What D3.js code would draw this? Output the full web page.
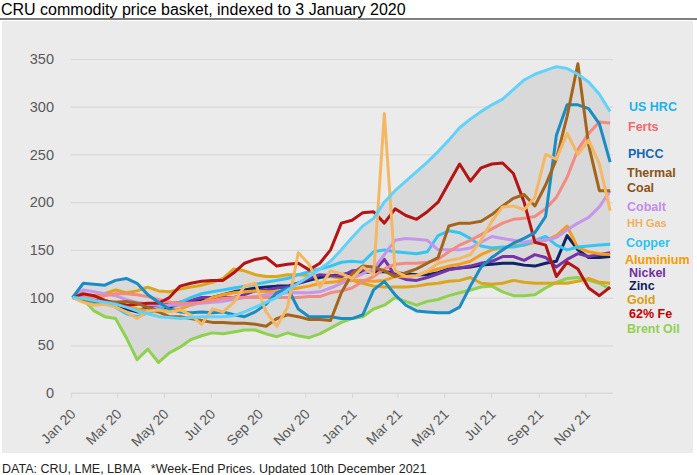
<!DOCTYPE html>
<html>
<head>
<meta charset="utf-8">
<script src="https://cdn.jsdelivr.net/npm/d3@7"></script>
<style>
  body { margin: 0; background: #fff; }
  svg { font-family: "Liberation Sans", Arial, sans-serif; }
</style>
</head>
<body>
<script>
// week-end dates, sampled every second week
const weekEnds = [
  "2020-01-03","2020-01-17","2020-01-31","2020-02-14","2020-02-28","2020-03-13","2020-03-27","2020-04-10","2020-04-24","2020-05-08",
  "2020-05-22","2020-06-05","2020-06-19","2020-07-03","2020-07-17","2020-07-31","2020-08-14","2020-08-28","2020-09-11","2020-09-25",
  "2020-10-09","2020-10-23","2020-11-06","2020-11-20","2020-12-04","2020-12-18","2021-01-01","2021-01-15","2021-01-29","2021-02-12",
  "2021-02-26","2021-03-12","2021-03-26","2021-04-09","2021-04-23","2021-05-07","2021-05-21","2021-06-04","2021-06-18","2021-07-02",
  "2021-07-16","2021-07-30","2021-08-13","2021-08-27","2021-09-10","2021-09-24","2021-10-08","2021-10-22","2021-11-05","2021-11-19","2021-12-03"
];

const usHrc = [100,99,97,95,93,90,86,83,80,79, 78,79,80,80,80,81,85,90,95,100, 108,115,122,130,138,150,163,175,183,200, 212,222,232,242,253,265,278,287,295,302, 308,318,328,334,338,342,340,334,326,313,295];
const ferts = [100,100,100,102,104,104,103,101,98,95, 94,94,95,97,99,100,100,100,100,100, 100,100,101,101,105,107,110,117,122,130, 135,136,136,137,140,148,155,160,166,172, 178,182,183,185,193,205,226,255,272,284,283];
const phcc = [100,115,114,113,118,120,115,103,95,88, 85,84,85,84,85,82,80,85,93,105, 110,88,80,80,80,78,78,82,108,117, 103,92,86,85,84,84,90,112,132,142, 150,157,162,168,185,270,302,302,298,282,242];
const thermalCoal = [100,98,96,95,95,96,94,90,85,80, 80,78,76,74,74,73,73,72,70,78, 82,80,77,77,76,105,125,133,132,128, 122,126,130,136,142,175,178,178,180,187, 196,204,208,196,218,245,290,345,260,212,212];
const cobalt = [100,108,106,104,102,98,95,93,92,92, 92,93,94,95,96,98,100,101,103,104, 105,105,105,106,110,115,120,125,130,145, 160,162,161,160,150,150,150,152,158,164, 162,160,158,160,160,163,171,178,184,195,212];
const hhGas = [100,95,92,93,90,85,78,86,87,85, 87,82,72,88,85,95,112,115,85,70, 90,147,135,111,128,125,120,132,124,293, 128,122,123,128,136,139,141,145,160,180, 195,196,192,205,250,245,272,250,265,240,191];
const copper = [100,98,94,95,90,83,80,84,88,92, 95,100,104,106,108,110,112,114,116,118, 120,124,127,130,133,137,138,137,148,150, 148,147,146,148,165,170,168,162,154,152, 153,153,155,160,164,155,150,153,154,155,156];
const aluminium = [100,98,95,95,94,92,88,86,85,87, 88,92,95,100,103,105,106,107,106,106, 108,110,112,115,116,117,118,118,117,118, 122,122,123,127,130,133,135,138,145,150, 152,155,155,158,160,165,175,152,148,146,145];
const nickel = [100,98,97,95,95,92,86,90,92,93, 95,97,100,100,100,100,103,107,108,110, 111,115,120,124,123,122,128,129,127,140, 123,119,118,121,125,129,131,133,136,138, 143,143,139,145,142,132,140,146,143,145,147];
const zinc = [100,100,97,95,93,88,85,86,88,90, 93,95,97,100,103,106,108,110,111,112, 112,115,118,121,123,124,126,126,127,127, 126,125,124,124,126,130,131,132,134,135, 136,136,134,133,136,138,165,150,142,142,143];
const gold = [100,102,102,104,108,105,107,111,107,106, 109,111,113,116,120,130,128,124,122,122, 124,124,123,122,122,120,118,115,112,111, 111,111,112,114,115,117,118,121,115,114, 115,118,116,115,115,115,115,117,120,116,115];
const ironOre = [100,104,102,97,94,92,93,94,94,100, 112,115,117,118,118,126,136,140,142,133, 135,136,129,136,150,178,181,189,190,178, 193,186,182,190,200,220,240,222,236,240, 241,230,200,158,155,122,137,130,110,102,111];
const brentOil = [100,98,86,80,78,58,35,46,32,42, 48,56,60,63,62,64,66,66,62,59, 63,60,58,62,68,74,78,80,88,92, 100,96,92,96,98,102,105,108,111,112, 106,102,102,103,110,116,120,121,118,115,109];

const yTicks = [0, 50, 100, 150, 200, 250, 300, 350];
const xTickMonths = ["2020-01-01","2020-03-01","2020-05-01","2020-07-01","2020-09-01","2020-11-01",
                     "2021-01-01","2021-03-01","2021-05-01","2021-07-01","2021-09-01","2021-11-01"];

const titleText = "CRU commodity price basket, indexed to 3 January 2020";
const footText = "DATA: CRU, LME, LBMA   *Week-End Prices. Updated 10th December 2021";

// drawing order (last on top) and styles
// inTop / inBottom: whether the series bounds the grey range band
const series = [
  {name: "Brent Oil", values: brentOil, color: "#8fd14f", inTop: true, inBottom: true},
  {name: "Gold", values: gold, color: "#dba51c", inTop: true, inBottom: true},
  {name: "Zinc", values: zinc, color: "#0e2566", inTop: true, inBottom: true},
  {name: "Nickel", values: nickel, color: "#7535a8", inTop: true, inBottom: true},
  {name: "Aluminium", values: aluminium, color: "#f59e1b", inTop: true, inBottom: true},
  {name: "Copper", values: copper, color: "#35c4f4", inTop: true, inBottom: true},
  {name: "Cobalt", values: cobalt, color: "#c596eb", inTop: true, inBottom: true},
  {name: "Ferts", values: ferts, color: "#f38b82", inTop: true, inBottom: true},
  {name: "62% Fe", values: ironOre, color: "#b41414", inTop: false, inBottom: true},
  {name: "PHCC", values: phcc, color: "#1a8cc4", inTop: true, inBottom: true},
  {name: "Thermal Coal", values: thermalCoal, color: "#a3651c", inTop: false, inBottom: true},
  {name: "HH Gas", values: hhGas, color: "#f4b764", inTop: false, inBottom: false},
  {name: "US HRC", values: usHrc, color: "#62d2f8", inTop: true, inBottom: true}
];

const labels = [
  {text: "US HRC", x: 629, y: 111, color: "#1cb1ec"},
  {text: "Ferts", x: 628, y: 131, color: "#f06a6a"},
  {text: "PHCC", x: 628, y: 158, color: "#1565b5"},
  {text: "Thermal", x: 627, y: 177, color: "#8c5215"},
  {text: "Coal", x: 627, y: 192, color: "#8c5215"},
  {text: "Cobalt", x: 627, y: 211, color: "#c48ceb"},
  {text: "HH Gas", x: 627, y: 227, color: "#f0b060", size: 11},
  {text: "Copper", x: 626, y: 247, color: "#2cc2f4"},
  {text: "Aluminium", x: 625, y: 264, color: "#f59b00"},
  {text: "Nickel", x: 629, y: 277, color: "#7030a0"},
  {text: "Zinc", x: 629, y: 290, color: "#0a1f5c"},
  {text: "Gold", x: 627, y: 304, color: "#d9a012"},
  {text: "62% Fe", x: 629, y: 318, color: "#c00000"},
  {text: "Brent Oil", x: 627, y: 333, color: "#92d050"}
];

const W = 697, H = 475;
const parse = d3.timeParse("%Y-%m-%d");
const dates = weekEnds.map(parse);

const svg = d3.select("body").append("svg")
  .attr("width", W)
  .attr("height", H);

// panel
svg.append("rect")
  .attr("x", 2).attr("y", 21)
  .attr("width", 691).attr("height", 432)
  .attr("fill", "#ebebeb");

// title + rule
svg.append("text")
  .attr("x", 1).attr("y", 15)
  .style("font-size", "16px")
  .attr("fill", "#000")
  .text(titleText);
svg.append("line")
  .attr("x1", 0).attr("x2", W)
  .attr("y1", 19).attr("y2", 19)
  .attr("stroke", "#7f7f7f")
  .attr("stroke-width", 2);

const x = d3.scaleTime()
  .domain([parse("2020-01-01"), parse("2021-12-01")])
  .range([71, 608.6]);
const y = d3.scaleLinear().domain([0, 350]).range([393, 59]);
const plotRight = 613;

// y axis with gridlines
const yAxis = svg.append("g")
  .attr("transform", "translate(71,0)")
  .call(d3.axisLeft(y).tickValues(yTicks).tickSize(-(plotRight - 71)).tickPadding(17));
yAxis.select(".domain").remove();
yAxis.selectAll("line").attr("stroke", "#d9d9d9").attr("stroke-width", 1.2);
yAxis.selectAll("text")
  .attr("fill", "#595959")
  .style("font-size", "14.5px");

// x axis
const xAxis = svg.append("g")
  .attr("transform", "translate(0,393)")
  .call(d3.axisBottom(x).tickValues(xTickMonths.map(parse))
    .tickFormat(d3.timeFormat("%b %y")).tickSize(5));
xAxis.select(".domain")
  .attr("d", `M71,0H${plotRight}`)
  .attr("stroke", "#d9d9d9").attr("stroke-width", 1.2);
xAxis.selectAll(".tick line").attr("stroke", "#d9d9d9").attr("stroke-width", 1.2);
xAxis.selectAll("text")
  .attr("fill", "#595959")
  .style("font-size", "14px")
  .attr("text-anchor", "end")
  .attr("x", 0).attr("y", 0).attr("dy", 0)
  .attr("transform", "translate(5,22) rotate(-45)");

// grey range band
const topSeries = series.filter(s => s.inTop);
const bottomSeries = series.filter(s => s.inBottom);
const band = dates.map((d, i) => ({
  date: d,
  lo: d3.min(bottomSeries, s => s.values[i]),
  hi: d3.max(topSeries, s => s.values[i])
}));
svg.append("path")
  .datum(band)
  .attr("fill", "#d9d9d9")
  .attr("d", d3.area()
    .x(d => x(d.date))
    .y0(d => y(d.lo))
    .y1(d => y(d.hi)));

// lines
const line = d3.line()
  .x((v, i) => x(dates[i]))
  .y(v => y(v));
svg.append("g")
  .selectAll("path")
  .data(series)
  .join("path")
  .attr("fill", "none")
  .attr("stroke", s => s.color)
  .attr("stroke-width", 3)
  .attr("stroke-linejoin", "round")
  .attr("d", s => line(s.values));

// labels on the right
svg.append("g")
  .selectAll("text")
  .data(labels)
  .join("text")
  .attr("x", d => d.x)
  .attr("y", d => d.y)
  .attr("fill", d => d.color)
  .style("font-weight", "bold")
  .style("font-size", d => (d.size || 12.5) + "px")
  .text(d => d.text);

// footer
svg.append("text")
  .attr("x", 2).attr("y", 473)
  .style("font-size", "12.5px")
  .style("white-space", "pre")
  .attr("fill", "#222")
  .text(footText);
</script>
</body>
</html>
